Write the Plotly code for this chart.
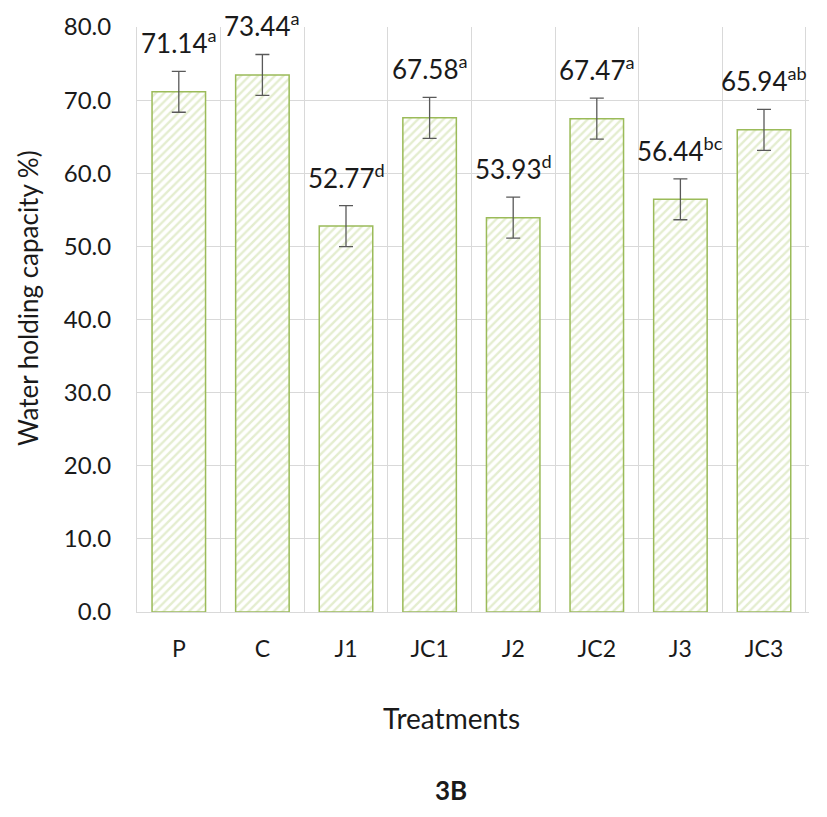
import plotly.graph_objects as go

categories = ["P", "C", "J1", "JC1", "J2", "JC2", "J3", "JC3"]
values = [71.14, 73.44, 52.77, 67.58, 53.93, 67.47, 56.44, 65.94]
errors = [2.8, 2.8, 2.8, 2.8, 2.8, 2.8, 2.8, 2.8]
letters = ["a", "a", "d", "a", "d", "a", "bc", "ab"]

FONT = "Lato, Open Sans, sans-serif"

# page has an 8px body margin; work in figure pixels
OFF = 8
W, H = 827 - OFF, 817 - OFF
L, T = 137 - OFF, 27 - OFF
R = W - (809 - OFF)
B = H - (612 - OFF)
pw, ph = W - L - R, H - T - B

def px(x):
    return (x - OFF - L) / pw

def py(y):
    return (H - B - (y - OFF)) / ph

fig = go.Figure()
fig.add_trace(go.Bar(
    x=categories, y=values, width=0.64,
    marker=dict(color="white",
                line=dict(color="#9bbb59", width=1.5),
                pattern=dict(shape="/", fgcolor="#c9dca0", bgcolor="white", size=6, solidity=0.4)),
    error_y=dict(type="data", array=errors, visible=True, color="#595959", thickness=1.3, width=7),
))

for c, v, e, l in zip(categories, values, errors, letters):
    fig.add_annotation(x=c, y=v + e, text=f"{v:.2f}<sup>{l}</sup>", showarrow=False,
                       yanchor="bottom", yshift=10, xshift=0,
                       font=dict(family=FONT, size=26, color="#1a1a1a"))

fig.add_annotation(x=px(28), y=py(298), xref="paper", yref="paper", text="Water holding capacity %)",
                   showarrow=False, textangle=-90, xanchor="center", yanchor="middle",
                   font=dict(family=FONT, size=26, color="#1a1a1a"))
fig.add_annotation(x=px(451), y=py(718), xref="paper", yref="paper", text="Treatments",
                   showarrow=False, xanchor="center", yanchor="middle",
                   font=dict(family=FONT, size=28, color="#1a1a1a"))
fig.add_annotation(x=px(451), y=py(790), xref="paper", yref="paper", text="<b>3B</b>",
                   showarrow=False, xanchor="center", yanchor="middle",
                   font=dict(family=FONT, size=26, color="#1a1a1a"))

fig.update_layout(
    width=W, height=H,
    margin=dict(l=L, r=R, t=T, b=B),
    plot_bgcolor="white", paper_bgcolor="white",
    showlegend=False,
    font=dict(family=FONT, color="#1a1a1a"),
)
fig.update_xaxes(type="category", tickson="boundaries", showgrid=True, gridcolor="#d9d9d9",
                 showline=True, linecolor="#d9d9d9", ticks="", tickfont=dict(size=23),
                 ticklabelstandoff=16, automargin=False)
fig.update_yaxes(range=[0, 80], dtick=10, tickformat=".1f", showgrid=True, gridcolor="#d9d9d9",
                 showline=True, linecolor="#d9d9d9", tickfont=dict(size=24), ticks="",
                 ticklabelstandoff=20, zeroline=False, automargin=False)

fig.write_html("out.html")
